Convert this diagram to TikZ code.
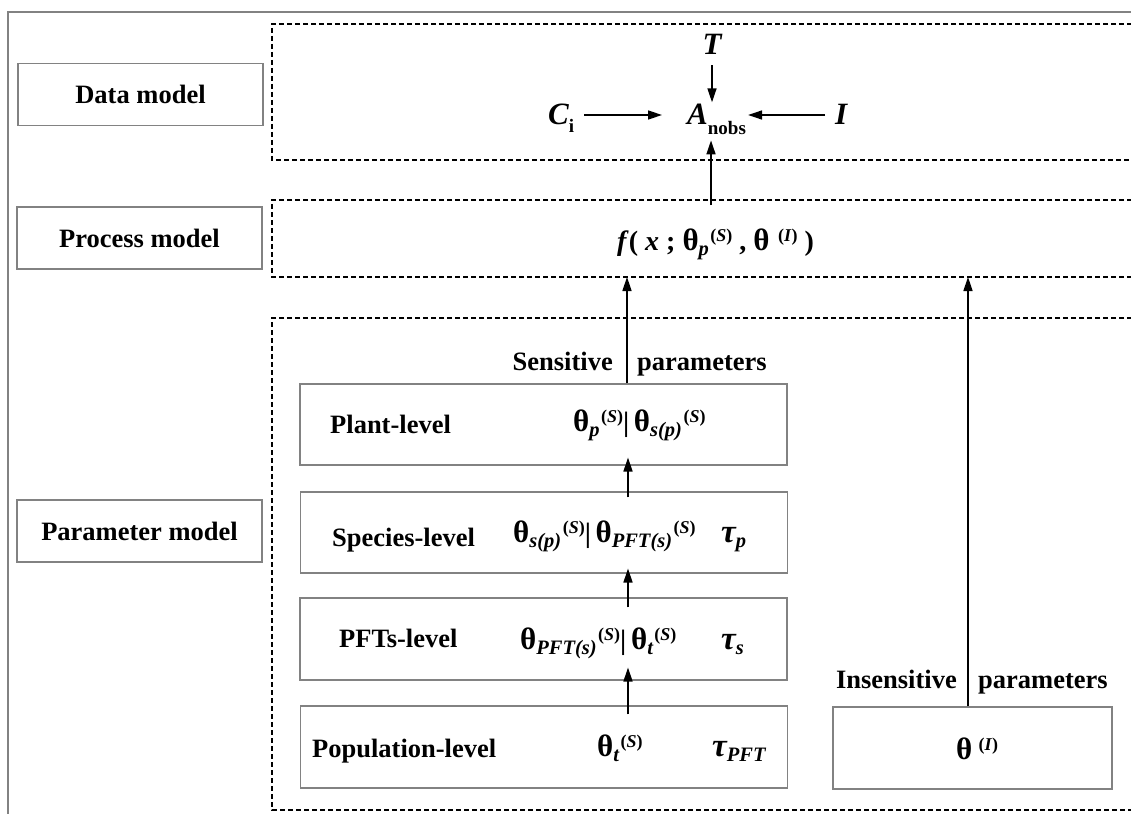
\documentclass[tikz,border=0pt]{standalone}
\usepackage{fontspec}
\setmainfont{Liberation Serif}
\usetikzlibrary{arrows.meta,calc}
\definecolor{bgray}{RGB}{130,130,130}
\newcommand{\thb}{{\fontsize{31}{31}\selectfont\bfseries\upshape θ}}
\newcommand{\tab}{{\fontsize{33}{33}\selectfont\bfseries\itshape τ}}
\newcommand{\lsb}[1]{\raisebox{-5.5pt}{\fontsize{20.5}{20.5}\selectfont\bfseries\itshape #1}}
\newcommand{\lsbu}[1]{\raisebox{-8pt}{\fontsize{19}{19}\selectfont\bfseries\upshape #1}}
\newcommand{\lsp}[1]{\kern1.5pt\raisebox{8.5pt}{\fontsize{18}{18}\selectfont\bfseries\upshape #1}}
\tikzset{
  lbl/.style={font=\fontsize{26.5}{30}\selectfont\bfseries, inner sep=0pt},
  sidebox/.style={draw=bgray, line width=1.1pt, minimum width=245pt, minimum height=62pt, inner sep=0pt, font=\fontsize{26.5}{30}\selectfont\bfseries},
  lvbox/.style={draw=bgray, line width=1.1pt, minimum width=487pt, minimum height=81pt, inner sep=0pt},
  dsh/.style={draw=black, line width=1.3pt, dash pattern=on 5pt off 3pt},
  arr/.style={-{Triangle[length=14pt,width=9pt]}, line width=1.6pt},
  mth/.style={font=\fontsize{28}{30}\selectfont\bfseries, inner sep=0pt},
  bigit/.style={font=\fontsize{31}{34}\selectfont\bfseries\itshape, inner sep=0pt},
}
\begin{document}
\begin{tikzpicture}[x=1pt,y=-1pt]
\useasboundingbox (0,0) rectangle (1131,813);
\fill[white] (0,0) rectangle (1131,813);
\begin{scope}
\clip (0,0) rectangle (1131,813);
% outer frame
\draw[bgray, line width=1.2pt] (8,820) -- (8,12) -- (1140,12);
% dashed model regions
\draw[dsh] (1140,24) -| (272,160) -- (1140,160);
\draw[dsh] (1140,200) -| (272,277) -- (1140,277);
\draw[dsh] (1140,318) -| (272,810) -- (1140,810);
\end{scope}

% side labels
\node[sidebox] (dm) at (140.5,94.5) {Data model};
\node[sidebox] (pm) at (139.5,238) {Process model};
\node[sidebox] (prm) at (139.5,531) {Parameter model};

% level boxes
\node[lvbox] (plant) at (543.5,424.5) {};
\node[lvbox] (spec) at (544,532.5) {};
\node[lvbox, minimum height=82pt] (pft) at (543.5,639) {};
\node[lvbox, minimum height=82pt] (pop) at (544,747) {};
\node[lvbox, minimum width=279pt, minimum height=82pt] (ins) at (972.5,748) {};

% level labels
\node[lbl, anchor=base west] (plantl) at (330,433) {Plant-level};
\node[lbl, anchor=base west] (specl) at (332,546) {Species-level};
\node[lbl, anchor=base west] (pftl) at (339,647) {PFTs-level};
\node[lbl, anchor=base west] (popl) at (312,757) {Population-level};

% level contents
\node[mth, anchor=base west] (plantm) at (573,431) {\thb\lsb{p}\lsp{(\textit{S})}|\,\thb\lsb{s(p)}\lsp{(\textit{S})}};
\node[mth, anchor=base west] (specm) at (513,542) {\thb\lsb{s(p)}\lsp{(\textit{S})}|\,\thb\lsb{PFT(s)}\lsp{(\textit{S})}};
\node[mth, anchor=base west] (spect) at (721,542) {\tab\lsb{p}};
\node[mth, anchor=base west] (pftm) at (520,649) {\thb\lsb{PFT(s)}\lsp{(\textit{S})}|\,\thb\lsb{t}\lsp{(\textit{S})}};
\node[mth, anchor=base west] (pftt) at (721,649) {\tab\lsb{s}};
\node[mth, anchor=base west] (popm) at (597,756) {\thb\lsb{t}\lsp{(\textit{S})}};
\node[mth, anchor=base west] (popt) at (712,756) {\tab\lsb{PFT}};
\node[mth, anchor=base west] (insm) at (956,759) {\thb\,\lsp{(\textit{I})}};

% group captions
\node[lbl, anchor=base east] (sens) at (613,370) {Sensitive};
\node[lbl, anchor=base west] (sensp) at (637,370) {parameters};
\node[lbl, anchor=base east] (insl) at (957,688) {Insensitive};
\node[lbl, anchor=base west] (insp) at (978,688) {parameters};

% data model
\node[bigit, anchor=base] (T) at (712,55) {T};
\node[bigit, anchor=base west] (C) at (548,125) {C\lsbu{i}};
\node[bigit, anchor=base west] (A) at (687,125) {A\raisebox{-10pt}{\fontsize{19}{19}\selectfont\bfseries\upshape nobs}};
\node[bigit, anchor=base west] (I) at (835,125) {I};

% process model
\node[mth, anchor=base west] (fx) at (617,250) {\textit{f}( \textit{x} ; \thb\lsb{p}\lsp{(\textit{S})} , \thb\ \lsp{(\textit{I})} )};

% helper coordinates
\coordinate (ax) at (711,0);
\coordinate (sx) at (627,0);
\coordinate (bx) at (628,0);
\coordinate (ix) at (968,0);
\coordinate (dy) at (0,115);
\coordinate (ptop) at (0,205);
\coordinate (pbot) at (0,277);

% connectors
\draw[arr, shorten >=2pt] ([yshift=-10pt]T.south) -- (T.south |- A.north);
\draw[arr, shorten <=10pt, shorten >=25pt] (C.east |- dy) -- (A.west |- dy);
\draw[arr, shorten <=10pt, shorten >=2pt] (I.west |- dy) -- (A.east |- dy);
\draw[arr, shorten >=5pt] (ax |- ptop) -- (ax |- A.south);
\draw[arr] (sx |- plant.north) -- (sx |- pbot);
\draw[arr] (ix |- ins.north) -- (ix |- pbot);
\draw[arr] ([yshift=-6pt]bx |- spec.north) -- ([yshift=8pt]bx |- plant.south);
\draw[arr] ([yshift=-10pt]bx |- pft.north) -- ([yshift=5pt]bx |- spec.south);
\draw[arr] ([yshift=-9pt]bx |- pop.north) -- ([yshift=13pt]bx |- pft.south);
\end{tikzpicture}
\end{document}
